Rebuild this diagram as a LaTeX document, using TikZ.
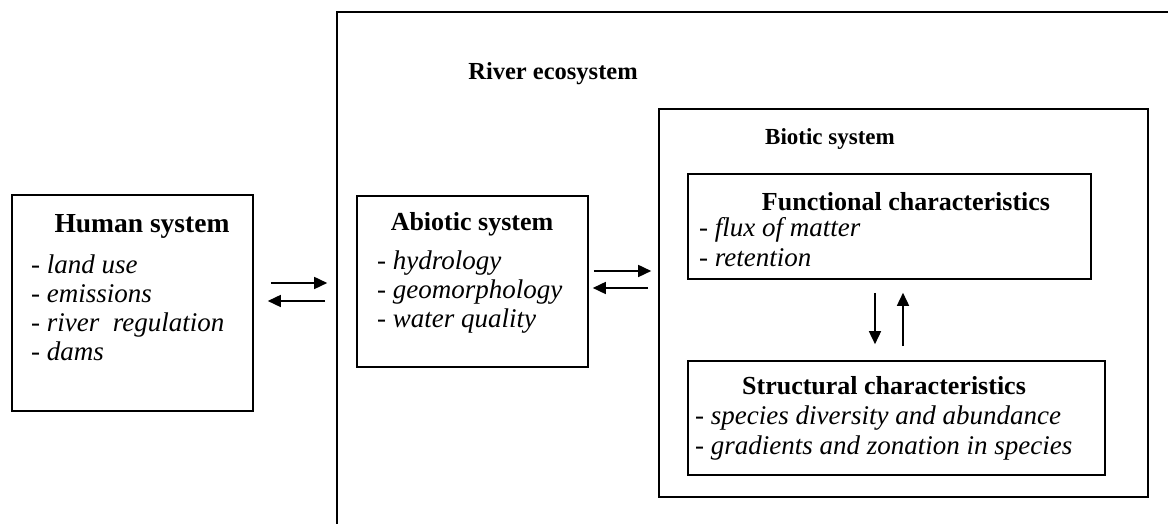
\documentclass[tikz,border=0pt]{standalone}
\usepackage{fontspec}
\setmainfont{Liberation Serif}
\usetikzlibrary{arrows.meta,fit}
% list entry: upright dash followed by an italic phrase
\newcommand{\dashitem}[1]{- \textit{#1}}
\begin{document}
\begin{tikzpicture}[x=1pt,y=1pt,
  sysbox/.style={draw,line width=1.6pt,inner sep=0pt},
  flow/.style={line width=1.6pt,-{Triangle[length=13pt,width=12pt]}},
  bigtitle/.style={font=\fontsize{27.5}{32}\selectfont\bfseries,anchor=base,inner sep=0pt},
  title/.style={font=\fontsize{26}{30}\selectfont\bfseries,anchor=base,inner sep=0pt},
  item/.style={font=\fontsize{27}{30}\selectfont,anchor=base west,inner sep=0pt}]
\useasboundingbox (0,0) rectangle (1168,524);
\clip (0,0) rectangle (1168,524);

% boxes
\node[sysbox,minimum width=241,minimum height=216] (human) at (132.5,221) {};
\node[sysbox,fit={(337,-20) (1190,512)}] (river) {};
\node[sysbox,minimum width=231,minimum height=171] (abiotic) at (472.5,242.5) {};
\node[sysbox,minimum width=489,minimum height=388] (biotic) at (903.5,221) {};
\node[sysbox,minimum width=403,minimum height=105] (functional) at (889.5,297.5) {};
\node[sysbox,minimum width=417,minimum height=114] (structural) at (896.5,106) {};

% human system
\node[bigtitle] (humant) at (142,291) {Human system};
\node[item] (h1) at (31,250) {\dashitem{land use}};
\node[item] (h2) at (31,221) {\dashitem{emissions}};
\node[item] (h3) at (31,192) {\dashitem{river\ \ regulation}};
\node[item] (h4) at (31,163) {\dashitem{dams}};

% river ecosystem
\node[title,font=\fontsize{24.5}{28}\selectfont\bfseries] (rivert) at (553,444) {River ecosystem};

% abiotic system
\node[title] (abiotict) at (472,293) {Abiotic system};
\node[item] (a1) at (377,254) {\dashitem{hydrology}};
\node[item] (a2) at (377,225) {\dashitem{geomorphology}};
\node[item] (a3) at (377,196) {\dashitem{water quality}};

% biotic system
\node[title,font=\fontsize{23}{27}\selectfont\bfseries] (biotict) at (830,379) {Biotic system};
\node[title] (funct) at (906,313) {Functional characteristics};
\node[item] (f1) at (699,287) {\dashitem{flux of matter}};
\node[item] (f2) at (699,257) {\dashitem{retention}};
\node[title] (structt) at (884,129) {Structural characteristics};
\node[item] (s1) at (695,99) {\dashitem{species diversity and abundance}};
\node[item] (s2) at (695,69) {\dashitem{gradients and zonation in species}};

% exchanges between the systems
\draw[flow,shorten <=17pt,shorten >=9pt] ([yshift=20pt]human.east) -- ([yshift=20pt]human.east -| river.west);
\draw[flow,shorten <=11pt,shorten >=14pt] ([yshift=2pt]human.east -| river.west) -- ([yshift=2pt]human.east);
\draw[flow,shorten <=5pt,shorten >=7pt] ([yshift=10.5pt]abiotic.east) -- ([yshift=10.5pt]abiotic.east -| biotic.west);
\draw[flow,shorten <=10pt,shorten >=4pt] ([yshift=-6.5pt]abiotic.east -| biotic.west) -- ([yshift=-6.5pt]abiotic.east);
\draw[flow,shorten <=13pt,shorten >=16pt] ([xshift=-14.5pt]functional.south) -- ([xshift=-14.5pt]functional.south |- structural.north);
\draw[flow,shorten <=14pt,shorten >=13pt] ([xshift=13.5pt]functional.south |- structural.north) -- ([xshift=13.5pt]functional.south);
\end{tikzpicture}
\end{document}
